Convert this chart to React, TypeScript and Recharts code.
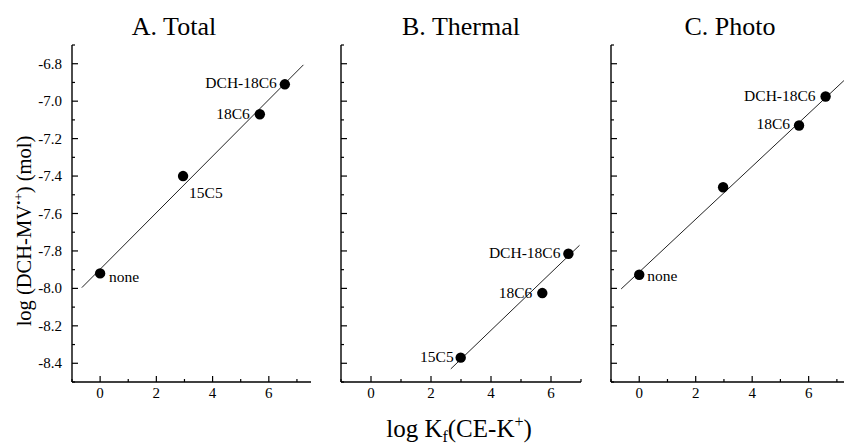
import React from 'react';
import { ScatterChart, Scatter, XAxis, YAxis } from 'recharts';

const FONT = '"Liberation Serif", "Times New Roman", Times, serif';
const TXT = { fontFamily: FONT };

// ---- data ----
const totalX = [0, 2.95, 5.68, 6.57];
const totalY = [-7.92, -7.4, -7.07, -6.91];
const totalLabels = ['none', '15C5', '18C6', 'DCH-18C6'];
const totalFitX = [-0.65, 7.23];
const totalFitY = [-7.996, -6.806];

const thermalX = [2.99, 5.71, 6.58];
const thermalY = [-8.37, -8.025, -7.815];
const thermalLabels = ['15C5', '18C6', 'DCH-18C6'];
const thermalFitX = [2.66, 6.95];
const thermalFitY = [-8.43, -7.77];

const photoX = [0, 2.97, 5.66, 6.6];
const photoY = [-7.927, -7.46, -7.13, -6.975];
const photoLabels = ['none', '', '18C6', 'DCH-18C6'];
const photoFitX = [-0.64, 7.25];
const photoFitY = [-8.003, -6.89];

const xTicks = [-1, 0, 1, 2, 3, 4, 5, 6, 7];
const yTicks = [-8.5, -8.4, -8.3, -8.2, -8.1, -8.0, -7.9, -7.8, -7.7, -7.6, -7.5, -7.4, -7.3, -7.2, -7.1, -7.0, -6.9, -6.8, -6.7];

const titles = ['A. Total', 'B. Thermal', 'C. Photo'];

// ---- label placement (style) ----
type LP = { dx: number; dy: number; anchor: 'start' | 'end' };
const leftLP: LP = { dx: -9, dy: 0, anchor: 'end' };
const totalLP: Record<string, LP> = {
  none: { dx: 9, dy: 4, anchor: 'start' },
  '15C5': { dx: 6, dy: 17, anchor: 'start' },
  '18C6': { dx: -10, dy: 0, anchor: 'end' },
  'DCH-18C6': { dx: -8, dy: -1, anchor: 'end' },
};
const thermalLP: Record<string, LP> = {
  '15C5': { dx: -7, dy: -1, anchor: 'end' },
  '18C6': { dx: -10, dy: 0, anchor: 'end' },
  'DCH-18C6': { dx: -8, dy: -1, anchor: 'end' },
};
const photoLP: Record<string, LP> = {
  none: { dx: 8, dy: 1, anchor: 'start' },
  '18C6': { dx: -9, dy: -2, anchor: 'end' },
  'DCH-18C6': { dx: -10, dy: 0, anchor: 'end' },
};

const isMajor = (v: number, step: number) => {
  const r = Math.abs(Math.round(v * 10)) % Math.round(step * 10);
  return r === 0;
};

const XTickBottom = (props: any) => {
  const { x, y, payload } = props;
  const v = payload.value;
  const major = isMajor(v, 2);
  return (
    <g>
      <line x1={x} x2={x} y1={y} y2={y - (major ? 6 : 3)} stroke="#000" strokeWidth={1.2} />
      {major && (
        <text x={x} y={y + 16} textAnchor="middle" style={TXT} fontSize={15} fill="#000">
          {String(v)}
        </text>
      )}
    </g>
  );
};
const XTickTop = (props: any) => {
  const { x, y, payload } = props;
  const major = isMajor(payload.value, 2);
  return <line x1={x} x2={x} y1={y} y2={y + (major ? 6 : 3)} stroke="#000" strokeWidth={1.2} />;
};
const makeYTickLeft = (showLabels: boolean) => (props: any) => {
  const { x, y, payload } = props;
  const v = payload.value;
  const major = isMajor(v, 0.2);
  return (
    <g>
      <line x1={x} x2={x + (major ? 6 : 3)} y1={y} y2={y} stroke="#000" strokeWidth={1.2} />
      {showLabels && major && (
        <text x={x - 10} y={y + 5} textAnchor="end" style={TXT} fontSize={15} fill="#000">
          {v.toFixed(1)}
        </text>
      )}
    </g>
  );
};
const YTickRight = (props: any) => {
  const { x, y, payload } = props;
  const major = isMajor(payload.value, 0.2);
  return <line x1={x} x2={x - (major ? 6 : 3)} y1={y} y2={y} stroke="#000" strokeWidth={1.2} />;
};

const makeDot = (lp: Record<string, LP>) => (p: any) => {
  const label: string = p.payload.label;
  const pos = lp[label] || leftLP;
  return (
    <g>
      <circle cx={p.cx} cy={p.cy} r={5.2} fill="#000" />
      {label && (
        <text
          x={p.cx + pos.dx}
          y={p.cy + pos.dy + 5}
          textAnchor={pos.anchor}
          style={TXT}
          fontSize={15.5}
          fill="#000"
        >
          {label}
        </text>
      )}
    </g>
  );
};
const NoShape = () => <g />;

type PanelProps = {
  left: number;
  width: number;
  yAxisWidth: number;
  showYLabels: boolean;
  xMax: number;
  xs: number[];
  ys: number[];
  labels: string[];
  fitX: number[];
  fitY: number[];
  lp: Record<string, LP>;
};

const axisLineStyle = { stroke: '#000', strokeWidth: 1.4 };

const Panel = (pp: PanelProps) => {
  const pts = pp.xs.map((x, i) => ({ x, y: pp.ys[i], label: pp.labels[i] }));
  const fit = pp.fitX.map((x, i) => ({ x, y: pp.fitY[i] }));
  const dom: [number, number] = [-1, pp.xMax];
  const ticks = xTicks.filter((t) => t <= pp.xMax);
  return (
    <div style={{ position: 'absolute', left: pp.left, top: 0 }}>
      <ScatterChart width={pp.width} height={445} margin={{ top: 45, right: 9, bottom: 33, left: 0 }}>
        <XAxis
          xAxisId={0}
          dataKey="x"
          type="number"
          domain={dom}
          allowDataOverflow
          ticks={ticks}
          interval={0}
          tickSize={0}
          tickMargin={0}
          tickLine={false}
          axisLine={axisLineStyle}
          tick={XTickBottom}
          height={30}
        />
        <XAxis
          xAxisId="top"
          orientation="top"
          dataKey="x"
          type="number"
          domain={dom}
          allowDataOverflow
          ticks={ticks}
          interval={0}
          tickSize={0}
          tickMargin={0}
          tickLine={false}
          axisLine={axisLineStyle}
          tick={XTickTop}
          height={0}
        />
        <YAxis
          yAxisId={0}
          dataKey="y"
          type="number"
          domain={[-8.5, -6.7]}
          allowDataOverflow
          ticks={yTicks}
          interval={0}
          tickSize={0}
          tickMargin={0}
          tickLine={false}
          axisLine={axisLineStyle}
          tick={makeYTickLeft(pp.showYLabels)}
          width={pp.yAxisWidth}
        />
        <YAxis
          yAxisId="right"
          orientation="right"
          dataKey="y"
          type="number"
          domain={[-8.5, -6.7]}
          allowDataOverflow
          ticks={yTicks}
          interval={0}
          tickSize={0}
          tickMargin={0}
          tickLine={false}
          axisLine={axisLineStyle}
          tick={YTickRight}
          width={0}
        />
        <Scatter
          data={fit}
          line={{ stroke: '#222', strokeWidth: 1 }}
          shape={NoShape}
          isAnimationActive={false}
        />
        <Scatter data={pts} shape={makeDot(pp.lp)} isAnimationActive={false} />
      </ScatterChart>
    </div>
  );
};

export default function App() {
  return (
    <div
      style={{
        position: 'absolute',
        left: 0,
        top: 0,
        width: 844,
        height: 445,
        overflow: 'hidden',
        background: '#fff',
        fontFamily: FONT,
      }}
    >
      <Panel
        left={0}
        width={320}
        yAxisWidth={72}
        showYLabels
        xMax={7.5}
        xs={totalX}
        ys={totalY}
        labels={totalLabels}
        fitX={totalFitX}
        fitY={totalFitY}
        lp={totalLP}
      />
      <Panel
        left={320}
        width={590 - 320}
        yAxisWidth={21}
        showYLabels={false}
        xMax={7}
        xs={thermalX}
        ys={thermalY}
        labels={thermalLabels}
        fitX={thermalFitX}
        fitY={thermalFitY}
        lp={thermalLP}
      />
      <Panel
        left={590}
        width={270}
        yAxisWidth={21}
        showYLabels={false}
        xMax={7.5}
        xs={photoX}
        ys={photoY}
        labels={photoLabels}
        fitX={photoFitX}
        fitY={photoFitY}
        lp={photoLP}
      />
      <svg
        width={844}
        height={445}
        style={{ position: 'absolute', left: 0, top: 0, pointerEvents: 'none' }}
      >
        <g style={TXT} fill="#000">
          <text x={174} y={35} fontSize={26} textAnchor="middle">{titles[0]}</text>
          <text x={461} y={35} fontSize={26} textAnchor="middle">{titles[1]}</text>
          <text x={730} y={35} fontSize={26} textAnchor="middle">{titles[2]}</text>
          <text x={459} y={437} fontSize={25} textAnchor="middle">
            log K<tspan fontSize={16} dy={5}>f</tspan>
            <tspan dy={-5}>(CE-K</tspan>
            <tspan fontSize={16} dy={-10}>+</tspan>
            <tspan dy={10}>)</tspan>
          </text>
          <text x={0} y={0} fontSize={20.5} textAnchor="middle" transform="translate(31,231) rotate(-90)">
            log (DCH-MV<tspan fontSize={13} dy={-8}>•+</tspan>
            <tspan dy={8}>) (mol)</tspan>
          </text>
        </g>
      </svg>
    </div>
  );
}
